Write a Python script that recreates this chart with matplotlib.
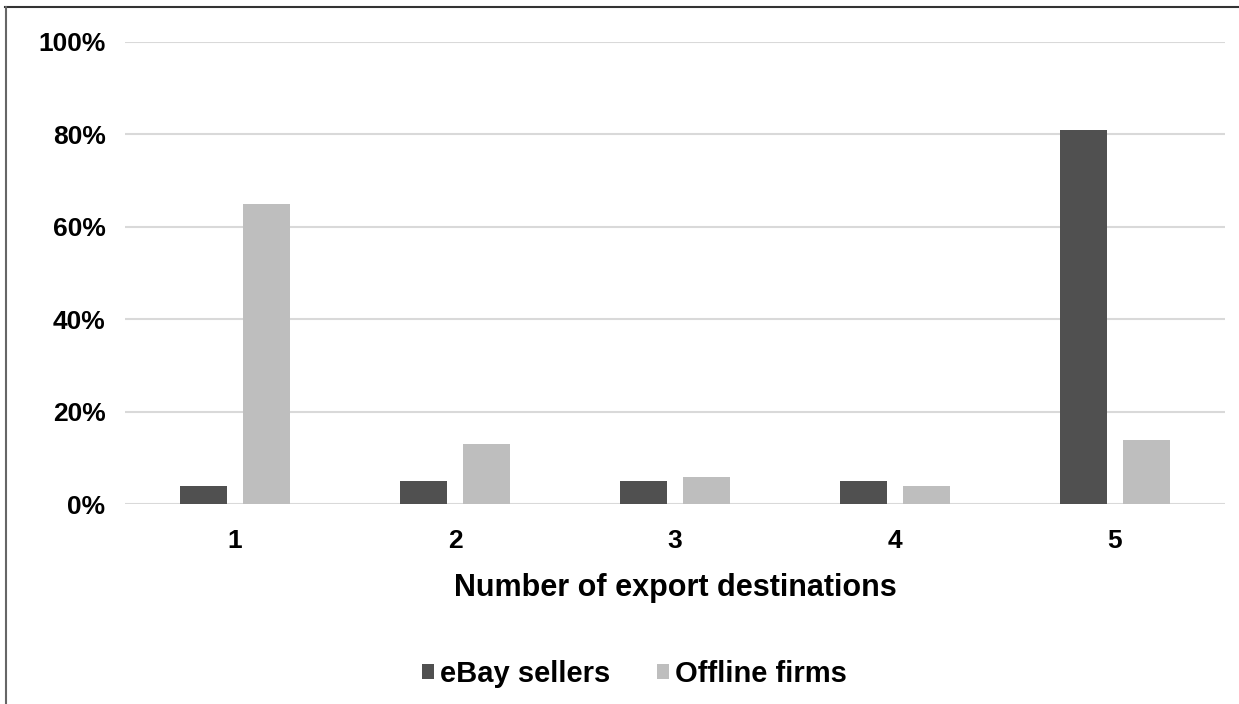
import matplotlib.pyplot as plt
import numpy as np
from matplotlib.lines import Line2D
from matplotlib.ticker import PercentFormatter

plt.rcParams['font.family'] = ['Liberation Sans', 'DejaVu Sans']
plt.rcParams['font.weight'] = 'bold'

# data
destinations = ["1", "2", "3", "4", "5"]
ebay_sellers = [4, 5, 5, 5, 81]
offline_firms = [65, 13, 6, 4, 14]
series_names = ["eBay sellers", "Offline firms"]

x = np.arange(len(destinations))
width = 0.21
offset = 0.143

fig = plt.figure(figsize=(12.39, 7.04), dpi=100)
ax = fig.add_axes([0.1009, 0.2837, 0.8878, 0.6571])

ax.bar(x - offset, ebay_sellers, width, color='#505050', label=series_names[0], zorder=3)
ax.bar(x + offset, offline_firms, width, color='#bebebe', label=series_names[1], zorder=3)

ax.set_xlim(-0.5, len(destinations) - 0.5)
ax.set_ylim(0, 100)
ax.set_yticks(np.arange(0, 101, 20))
ax.yaxis.set_major_formatter(PercentFormatter(decimals=0))
ax.set_xticks(x)
ax.set_xticklabels(destinations)

ax.grid(axis='y', color='#d9d9d9', linewidth=1.5, zorder=0)
for s in ax.spines.values():
    s.set_visible(False)
ax.tick_params(axis='both', length=0, labelsize=19)
ax.tick_params(axis='y', pad=14)
ax.tick_params(axis='x', pad=18)

ax.set_xlabel("Number of export destinations", fontsize=22, fontweight='bold', labelpad=14)

fig.legend(loc='center', bbox_to_anchor=(0.512, 0.043), ncol=2, frameon=False,
           fontsize=21, handlelength=0.42, handleheight=0.42, handletextpad=0.2,
           columnspacing=1.6)

# frame lines along the top and left edges
fig.add_artist(Line2D([0.004, 1.0], [0.990, 0.990], color='#333333', linewidth=1.5, transform=fig.transFigure))
fig.add_artist(Line2D([0.005, 0.005], [0.0, 0.990], color='#666666', linewidth=1.5, transform=fig.transFigure))

fig.savefig("out.png", dpi=100)
